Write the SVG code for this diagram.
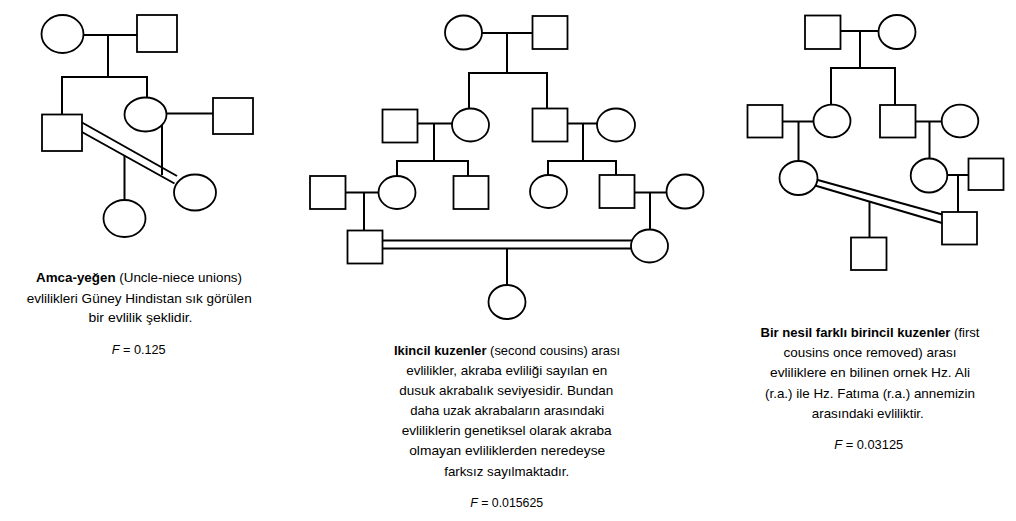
<svg xmlns="http://www.w3.org/2000/svg" width="1016" height="521" viewBox="0 0 1016 521">
<style>
.s{fill:#fff;stroke:#000;stroke-width:1.8}
.c line,.c path{stroke:#000;stroke-width:2;fill:none}
.t{font-family:"Liberation Sans",Arial,sans-serif;font-size:13px;fill:#000;text-anchor:middle}
.b{font-weight:bold}
.i{font-style:italic}
</style>
<rect width="1016" height="521" fill="#fff"/>
<!-- connectors -->
<g id="connectors" class="c">
<!-- left -->
<line x1="83" y1="35" x2="137" y2="35"/>
<line x1="108" y1="35" x2="108" y2="77"/>
<path d="M62 115V77H147V98"/>
<line x1="167" y1="113.5" x2="213" y2="113.5"/>
<line x1="162" y1="113.5" x2="162" y2="175"/>
<line x1="82" y1="122.5" x2="177" y2="176"/>
<line x1="81" y1="131.5" x2="174.5" y2="183.5"/>
<line x1="124.5" y1="156" x2="124.5" y2="200"/>
<!-- middle -->
<line x1="482" y1="33" x2="532" y2="33"/>
<line x1="507" y1="33" x2="507" y2="73"/>
<path d="M469 108V73H547V108"/>
<line x1="417" y1="123.5" x2="452" y2="123.5"/>
<line x1="434" y1="123.5" x2="434" y2="161"/>
<path d="M397 176V161H468V176"/>
<line x1="567" y1="123.5" x2="597" y2="123.5"/>
<line x1="583" y1="123.5" x2="583" y2="161"/>
<path d="M548 175V161H616V175"/>
<line x1="345" y1="192.5" x2="378" y2="192.5"/>
<line x1="364" y1="192.5" x2="364" y2="230"/>
<line x1="634" y1="192.5" x2="667" y2="192.5"/>
<line x1="650" y1="192.5" x2="650" y2="230"/>
<line x1="382" y1="240.5" x2="632" y2="240.5"/>
<line x1="382" y1="248.5" x2="631" y2="248.5"/>
<line x1="507" y1="248.5" x2="507" y2="285"/>
<!-- right -->
<line x1="840" y1="31" x2="878" y2="31"/>
<line x1="860" y1="31" x2="860" y2="68"/>
<path d="M831 105V68H895V105"/>
<line x1="782" y1="121.5" x2="813" y2="121.5"/>
<line x1="798.5" y1="121.5" x2="798.5" y2="161"/>
<line x1="915" y1="121.5" x2="942" y2="121.5"/>
<line x1="929.5" y1="121.5" x2="929.5" y2="158.5"/>
<line x1="947" y1="175" x2="968" y2="175"/>
<line x1="958" y1="175" x2="958" y2="212"/>
<line x1="816" y1="179.5" x2="944" y2="215"/>
<line x1="815" y1="185.5" x2="942" y2="223"/>
<line x1="869.5" y1="201.5" x2="869.5" y2="237"/>
</g>
<!-- left nodes -->
<g id="L1"><ellipse class="s" cx="62.5" cy="34" rx="21" ry="19"/></g>
<g id="L2"><rect class="s" x="137" y="15" width="40" height="37"/></g>
<g id="L3"><rect class="s" x="42" y="114.5" width="40" height="36.5"/></g>
<g id="L4"><ellipse class="s" cx="145.5" cy="114.5" rx="21" ry="17"/></g>
<g id="L5"><rect class="s" x="213" y="98" width="40" height="36"/></g>
<g id="L6"><ellipse class="s" cx="195" cy="192.5" rx="21" ry="18"/></g>
<g id="L7"><ellipse class="s" cx="124.5" cy="218.5" rx="21" ry="18.5"/></g>
<!-- middle nodes -->
<g id="M1"><ellipse class="s" cx="463.5" cy="32.5" rx="18.5" ry="17"/></g>
<g id="M2"><rect class="s" x="532.5" y="16" width="35" height="33"/></g>
<g id="M3"><rect class="s" x="382.5" y="109.5" width="35" height="33"/></g>
<g id="M4"><ellipse class="s" cx="470.5" cy="125" rx="18.5" ry="16.5"/></g>
<g id="M5"><rect class="s" x="532.5" y="108.5" width="35" height="33"/></g>
<g id="M6"><ellipse class="s" cx="616" cy="125" rx="19" ry="16.5"/></g>
<g id="M7"><rect class="s" x="310" y="176" width="35.5" height="33"/></g>
<g id="M8"><ellipse class="s" cx="397" cy="192.5" rx="18.5" ry="16.5"/></g>
<g id="M9"><rect class="s" x="453.5" y="176" width="35" height="33"/></g>
<g id="M10"><ellipse class="s" cx="548.5" cy="191.5" rx="18.5" ry="16.5"/></g>
<g id="M11"><rect class="s" x="599.5" y="175" width="35" height="33"/></g>
<g id="M12"><ellipse class="s" cx="685" cy="191.5" rx="18.5" ry="17"/></g>
<g id="M13"><rect class="s" x="347.5" y="230.5" width="35" height="33"/></g>
<g id="M14"><ellipse class="s" cx="649.5" cy="246" rx="18.5" ry="16.5"/></g>
<g id="M15"><ellipse class="s" cx="507" cy="302" rx="18.5" ry="17"/></g>
<!-- right nodes -->
<g id="R1"><rect class="s" x="805" y="15.5" width="35.5" height="33.5"/></g>
<g id="R2"><ellipse class="s" cx="897" cy="32" rx="18.5" ry="17"/></g>
<g id="R3"><rect class="s" x="747.5" y="105" width="35" height="32.5"/></g>
<g id="R4"><ellipse class="s" cx="832" cy="121" rx="18.5" ry="16.3"/></g>
<g id="R5"><rect class="s" x="880" y="105" width="35.5" height="32.5"/></g>
<g id="R6"><ellipse class="s" cx="960" cy="121" rx="18.3" ry="16.3"/></g>
<g id="R7"><ellipse class="s" cx="798.5" cy="178" rx="19" ry="17"/></g>
<g id="R8"><ellipse class="s" cx="929" cy="175.5" rx="18.3" ry="17"/></g>
<g id="R9"><rect class="s" x="968.5" y="158.5" width="35" height="31.5"/></g>
<g id="R10"><rect class="s" x="942" y="212" width="35" height="32.5"/></g>
<g id="R11"><rect class="s" x="851" y="237.5" width="35.5" height="32.5"/></g>
<!-- texts -->
<g id="text-left" class="t">
<text x="139" y="282.3" textLength="206" lengthAdjust="spacingAndGlyphs"><tspan class="b">Amca-yeğen</tspan> (Uncle-niece unions)</text>
<text x="139.2" y="302.7" textLength="225" lengthAdjust="spacingAndGlyphs">evlilikleri Güney Hindistan sık görülen</text>
<text x="140.5" y="322.3" textLength="104" lengthAdjust="spacingAndGlyphs">bir evlilik şeklidir.</text>
<text x="138.7" y="354.3" textLength="54" lengthAdjust="spacingAndGlyphs"><tspan class="i">F</tspan> = 0.125</text>
</g>
<g id="text-middle" class="t">
<text x="507" y="355" textLength="226" lengthAdjust="spacingAndGlyphs"><tspan class="b">Ikincil kuzenler</tspan> (second cousins) arası</text>
<text x="506.7" y="374.5" textLength="201" lengthAdjust="spacingAndGlyphs">evlilikler, akraba evliliği sayılan en</text>
<text x="506.3" y="394.5" textLength="214" lengthAdjust="spacingAndGlyphs">dusuk akrabalık seviyesidir. Bundan</text>
<text x="507.2" y="414.8" textLength="194" lengthAdjust="spacingAndGlyphs">daha uzak akrabaların arasındaki</text>
<text x="506.7" y="435" textLength="210" lengthAdjust="spacingAndGlyphs">evliliklerin genetiksel olarak akraba</text>
<text x="507.2" y="455.3" textLength="196" lengthAdjust="spacingAndGlyphs">olmayan evliliklerden neredeyse</text>
<text x="506.7" y="475.5" textLength="125" lengthAdjust="spacingAndGlyphs">farksız sayılmaktadır.</text>
<text x="506.7" y="506.5" textLength="73" lengthAdjust="spacingAndGlyphs"><tspan class="i">F</tspan> = 0.015625</text>
</g>
<g id="text-right" class="t">
<text x="870" y="336.7" textLength="219" lengthAdjust="spacingAndGlyphs"><tspan class="b">Bir nesil farklı birincil kuzenler</tspan> (first</text>
<text x="870" y="357" textLength="173" lengthAdjust="spacingAndGlyphs">cousins once removed) arası</text>
<text x="870" y="377.3" textLength="200" lengthAdjust="spacingAndGlyphs">evliliklere en bilinen ornek Hz. Ali</text>
<text x="870" y="397.6" textLength="210" lengthAdjust="spacingAndGlyphs">(r.a.) ile Hz. Fatıma (r.a.) annemizin</text>
<text x="867.8" y="417.5" textLength="112" lengthAdjust="spacingAndGlyphs">arasındaki evliliktir.</text>
<text x="868.7" y="449" textLength="69" lengthAdjust="spacingAndGlyphs"><tspan class="i">F</tspan> = 0.03125</text>
</g>
</svg>
